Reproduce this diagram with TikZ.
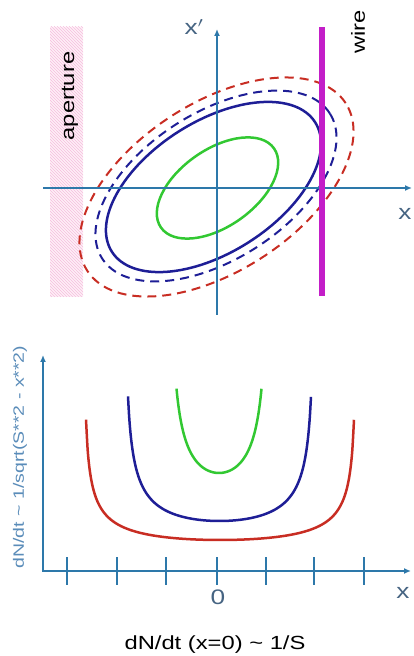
\documentclass[tikz,border=0pt]{standalone}
\usepackage{fontspec}
\setmainfont{Liberation Sans}
\usetikzlibrary{arrows.meta,patterns}
\definecolor{axiscol}{RGB}{45,120,170}
\definecolor{labcol}{RGB}{70,100,130}
\definecolor{ylabcol}{RGB}{90,140,185}
\definecolor{ngreen}{RGB}{50,200,50}
\definecolor{nblue}{RGB}{30,30,150}
\definecolor{nred}{RGB}{200,45,35}
\definecolor{wirecol}{RGB}{195,30,200}
\definecolor{pinkh}{RGB}{246,190,222}
\definecolor{pinkbg}{RGB}{254,240,247}
\tikzset{
  axis/.style={draw=axiscol,line width=1.6pt,-{Latex[length=7pt,width=6pt]}},
  tick/.style={draw=axiscol,line width=1.6pt},
  lab/.style={text=labcol,inner sep=0pt,font=\fontsize{21}{24}\selectfont},
  blk/.style={text=black,inner sep=0pt,font=\fontsize{19}{22}\selectfont},
  solidell/.style={line width=2.5pt},
  dashell/.style={line width=2pt,dash pattern=on 9pt off 6pt},
  curve/.style={line width=2.5pt,smooth}
}
\newcommand{\wide}[1]{\scalebox{1.25}[1]{#1}}
\begin{document}
\begin{tikzpicture}[x=1pt,y=1pt]
\useasboundingbox (0,0) rectangle (414,656);
% ---------- top: phase space ----------
\fill[pinkbg] (50,359) rectangle (83,629);
\fill[pattern=north west lines,pattern color=pinkh] (50,359) rectangle (83,629);
\node[blk,rotate=90] (ap) at (70,560) {\wide{aperture}};
% ellipses
\draw[ngreen,solidell,rotate around={35:(217.5,468)}] (217.5,468) ellipse [x radius=69,y radius=38.5];
\draw[nblue,solidell,rotate around={32.5:(213.5,469)}] (213.5,469) ellipse [x radius=120.5,y radius=65.5];
\draw[nblue,dashell,rotate around={32.5:(216,470)}] (216,470) ellipse [x radius=135,y radius=73.5];
\draw[nred,dashell,rotate around={33:(216.5,469)}] (216.5,469) ellipse [x radius=154,y radius=84];
% axes
\coordinate (hx0) at (43,468);
\coordinate (hx1) at (412,468);
\coordinate (vy0) at (217,341);
\coordinate (vy1) at (217,627);
\draw[axis] (hx0) -- (hx1);
\draw[axis] (vy0) -- (vy1);
\node[lab] (xp) at (194,629) {\wide{x$'$}};
\node[lab] (xl) at (405,442) {\wide{x}};
% wire
\coordinate (w0) at (322,360);
\coordinate (w1) at (322,629);
\draw[wirecol,line width=6pt] (w0) -- (w1);
\node[blk,rotate=90] (wr) at (358,624) {\wide{wire}};
% ---------- bottom: profiles ----------
\coordinate (o) at (43,85);
\coordinate (ya) at (43,301);
\coordinate (xa) at (411,85);
\draw[axis] (43,84) -- (ya);
\draw[axis] (o) -- (xa);
\foreach \t in {67,117,166,217,266,314,364}
  \draw[tick] (\t,71) -- (\t,99);
\node[lab] (zero) at (218,59) {\wide{0}};
\node[lab] (xb) at (403,63) {\wide{x}};
\node[text=ylabcol,inner sep=0pt,rotate=90,font=\fontsize{15}{18}\selectfont] (yl) at (20,199)
  {\scalebox{1.3}[1]{dN/dt \textasciitilde{} 1/sqrt(S**2 - x**2)}};
% curves, h = c/sqrt(S^2 - u^2), in units of 10pt
\draw[nred,curve] plot[domain=-13.4:13.4,samples=160] ({220+10*\x},{85+424.4/sqrt(13.69*13.69-\x*\x)});
\draw[nblue,curve] plot[domain=-9.15:9.15,samples=160] ({219.5+10*\x},{85+477.5/sqrt(9.55*9.55-\x*\x)});
\draw[ngreen,curve] plot[domain=-4.25:4.25,samples=160] ({219+10*\x},{85+494/sqrt(5.04*5.04-\x*\x)});
\node[blk] (cap) at (215,11) {\wide{dN/dt (x=0) \textasciitilde{} 1/S}};
\end{tikzpicture}
\end{document}
